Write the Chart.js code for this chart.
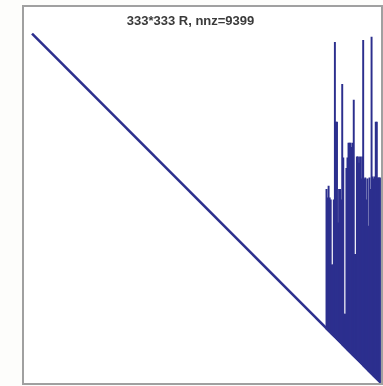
<!DOCTYPE html>
<html>
<head>
<meta charset="utf-8">
<script src="https://cdn.jsdelivr.net/npm/chart.js@4"></script>
<style>
  html, body { margin: 0; padding: 0; background: #fdfdfb; }
  #wrap { position: absolute; left: 0; top: 0; width: 383px; height: 386px; }
</style>
</head>
<body>
<div id="wrap"><canvas id="c" width="383" height="386"></canvas></div>
<script>
// Matrix size and title
const matrixSize = 333;
const titleText = '333*333 R, nnz=9399';

// Diagonal of the upper-triangular R (row = column)
const diagonalCols = [1, 333];
const diagonalRows = [1, 333];

// Dense trailing columns: column index and first non-zero row (down to the diagonal)
const denseCols = [282, 283, 284, 285, 286, 287, 288, 289, 290, 291, 292, 293, 294, 295, 296, 297,
  298, 299, 300, 301, 302, 303, 304, 305, 306, 307, 308, 309, 310, 311, 312, 313, 314, 315, 316,
  317, 318, 319, 320, 321, 322, 323, 324, 325, 326, 327, 328, 329, 330, 331, 332, 333];
const denseTops = [150, 158, 147, 158, 160, 222, 222, 160, 10, 86, 86, 182, 150, 150, 160, 50,
  120, 269, 269, 130, 120, 106, 106, 106, 110, 106, 65, 212, 212, 119, 119, 125, 119, 140, 119,
  8, 140, 139, 160, 140, 185, 139, 150, 5, 138, 140, 138, 86, 86, 139, 139, 139];

const markColor = '#2c2f8e';

const framePlugin = {
  id: 'frame',
  beforeDraw(chart) {
    const ctx = chart.ctx;
    ctx.save();
    ctx.fillStyle = '#fdfdfb';
    ctx.fillRect(0, 0, chart.width, chart.height);
    ctx.fillStyle = '#ffffff';
    ctx.fillRect(24, 7, 357, 376);
    ctx.strokeStyle = '#a0a0a0';
    ctx.lineWidth = 2;
    ctx.strokeRect(23, 6, 359, 378);
    ctx.restore();
  }
};

new Chart(document.getElementById('c'), {
  data: {
    datasets: [
      {
        type: 'line',
        data: diagonalCols.map((c, i) => ({ x: c, y: diagonalRows[i] })),
        borderColor: markColor,
        borderWidth: 2.6,
        pointRadius: 0,
        fill: false
      },
      {
        type: 'bar',
        data: denseCols.map((c, i) => ({ x: c, y: [denseTops[i] - 0.5, c + 0.5] })),
        backgroundColor: markColor,
        borderWidth: 0,
        inflateAmount: 0.45,
        barPercentage: 1,
        categoryPercentage: 1,
        grouped: false
      }
    ]
  },
  options: {
    responsive: false,
    animation: false,
    events: [],
    layout: { padding: { left: 0, right: 2, top: 0, bottom: 3 } },
    scales: {
      x: {
        type: 'linear',
        min: 0,
        max: matrixSize + 1,
        offset: false,
        display: false
      },
      y: {
        type: 'linear',
        reverse: true,
        min: 0,
        max: matrixSize + 1,
        display: true,
        grid: { display: false },
        border: { display: false },
        ticks: { display: false },
        afterFit(scale) { scale.width = 31; }
      }
    },
    plugins: {
      legend: { display: false },
      tooltip: { enabled: false },
      title: {
        display: true,
        text: titleText,
        color: '#3a3a3a',
        font: { family: 'Liberation Sans', size: 13, weight: 'bold' },
        padding: { top: 14, bottom: 3 }
      }
    }
  },
  plugins: [framePlugin]
});
</script>
</body>
</html>
